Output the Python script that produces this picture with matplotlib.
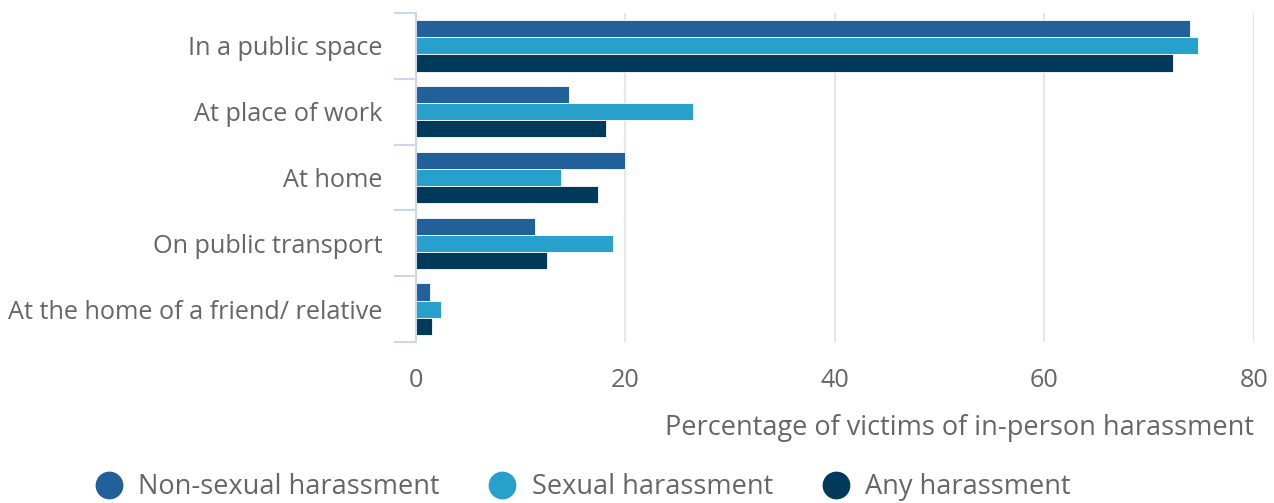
import matplotlib
matplotlib.use("Agg")
import matplotlib.pyplot as plt
import numpy as np
from matplotlib.lines import Line2D

categories = ["In a public space", "At place of work", "At home",
              "On public transport", "At the home of a friend/ relative"]
series_names = ["Non-sexual harassment", "Sexual harassment", "Any harassment"]
non_sexual = [73.9, 14.6, 20.0, 11.4, 1.3]
sexual = [74.7, 26.4, 13.8, 18.8, 2.4]
any_harassment = [72.3, 18.1, 17.4, 12.5, 1.5]
x_ticks = [0, 20, 40, 60, 80]
x_label = "Percentage of victims of in-person harassment"

colors = ["#22609a", "#27a1cc", "#003a5a"]
series = [non_sexual, sexual, any_harassment]

plt.rcParams['font.family'] = ['Open Sans', 'DejaVu Sans']
text_color = "#666666"
fs = 18.2
fs_big = 19.5

fig = plt.figure(figsize=(12.74, 5.03), dpi=100)
ax = fig.add_axes([416/1274, 1-342/503, (1254-416)/1274, (342-13)/503])

y = np.arange(len(categories))
h = 0.26
for i, (vals, c) in enumerate(zip(series, colors)):
    ax.barh(y + (i-1)*h, vals, height=h, color=c, edgecolor="white", linewidth=0.6, zorder=3)

ax.set_ylim(len(categories)-0.5, -0.5)
ax.set_xlim(0, 80)
ax.set_xticks(x_ticks)
ax.set_xticklabels([str(t) for t in x_ticks])
ax.set_yticks(y)
ax.set_yticklabels(categories)
ax.set_yticks(np.arange(len(categories)+1)-0.5, minor=True)

ax.grid(axis='x', color="#e6e6e6", linewidth=1.5, zorder=0)
ax.set_axisbelow(True)
for s in ['top', 'right', 'bottom']:
    ax.spines[s].set_visible(False)
ax.spines['left'].set_color("#ccd6eb")
ax.spines['left'].set_linewidth(1.5)
ax.spines['left'].set_zorder(4)

ax.tick_params(axis='y', which='major', length=0, pad=24, labelsize=fs, labelcolor=text_color)
ax.tick_params(axis='y', which='minor', length=16, width=1.5, color="#ccd6eb")
ax.tick_params(axis='x', length=0, pad=19, labelsize=fs, labelcolor=text_color)

ax.set_xlabel(x_label, loc='right', fontsize=fs_big, color=text_color, labelpad=15)

handles = [Line2D([], [], marker='o', linestyle='none', markersize=19, color=c) for c in colors]
fig.legend(handles, series_names, loc='center', bbox_to_anchor=(583/1274, 1-487/503),
           ncol=3, frameon=False, fontsize=fs_big, labelcolor=text_color,
           handletextpad=0.6, columnspacing=1.8, handlelength=1.0)

fig.savefig("out.png", dpi=100)
